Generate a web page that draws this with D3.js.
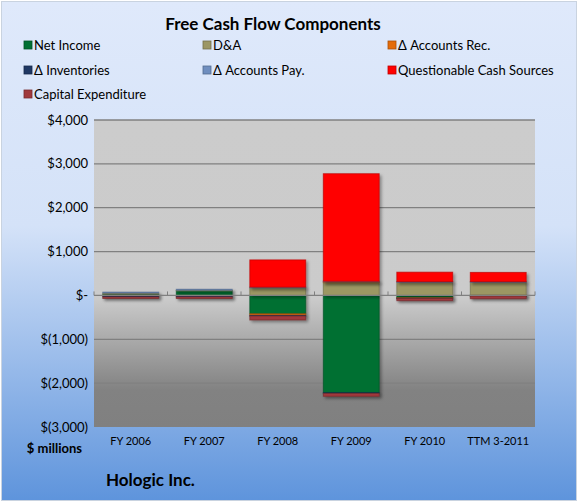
<!DOCTYPE html>
<html>
<head>
<meta charset="utf-8">
<script src="https://cdn.jsdelivr.net/npm/d3@7"></script>
<style>
  body { margin: 0; background: #fff; }
  text { font-family: Lato, "Open Sans", sans-serif; }
</style>
</head>
<body>
<svg id="chart" width="578" height="502"></svg>
<script>
// Values in $ millions
const categories = ["FY 2006", "FY 2007", "FY 2008", "FY 2009", "FY 2010", "TTM 3-2011"];
const seriesNames = ["Net Income", "D&A", "\u0394 Accounts Rec.", "\u0394 Inventories",
  "\u0394 Accounts Pay.", "Questionable Cash Sources", "Capital Expenditure"];
const netIncome = [30, 110, -420, -2220, -50, 10];
const dna = [25, 10, 180, 290, 310, 300];
const accountsRec = [-10, -5, -35, 30, -10, -10];
const inventories = [-25, -30, -15, -15, -10, -5];
const accountsPay = [20, 20, 10, 5, 5, 5];
const questionable = [0, 0, 620, 2450, 215, 210];
const capex = [-35, -35, -90, -65, -50, -60];
const yTicks = [4000, 3000, 2000, 1000, 0, -1000, -2000, -3000];

const colors = ["#007033", "#9c9764", "#e46c0a", "#1f3864", "#6f8ebf", "#ff0000", "#a0393c"];
const seriesValues = [netIncome, dna, accountsRec, inventories, accountsPay, questionable, capex];

const table = categories.map((c, i) => {
  const row = { category: c };
  seriesNames.forEach((s, j) => (row[s] = seriesValues[j][i]));
  return row;
});

const svg = d3.select("#chart");
const defs = svg.append("defs");

// background gradient of the whole chart
const bg = defs.append("linearGradient").attr("id", "bg").attr("x1", 0).attr("y1", 0).attr("x2", 0).attr("y2", 1);
bg.append("stop").attr("offset", "0").attr("stop-color", "#dfe9fb");
bg.append("stop").attr("offset", "0.45").attr("stop-color", "#d4e2f8");
bg.append("stop").attr("offset", "1").attr("stop-color", "#5e94dc");

// plot area gradient
const pg = defs.append("linearGradient").attr("id", "plotbg").attr("x1", 0).attr("y1", 0).attr("x2", 0).attr("y2", 1);
pg.append("stop").attr("offset", "0").attr("stop-color", "#cccccc");
pg.append("stop").attr("offset", "0.58").attr("stop-color", "#cbcbcb");
pg.append("stop").attr("offset", "0.88").attr("stop-color", "#828282");
pg.append("stop").attr("offset", "1").attr("stop-color", "#808080");

const shadow = defs.append("filter").attr("id", "shadow")
  .attr("x", "-10%").attr("y", "-10%").attr("width", "130%").attr("height", "140%");
shadow.append("feDropShadow").attr("dx", 2).attr("dy", 2).attr("stdDeviation", 1.5)
  .attr("flood-color", "#000").attr("flood-opacity", 0.35);

svg.append("rect")
  .attr("x", 1.5).attr("y", 1.5).attr("width", 575).attr("height", 499)
  .attr("fill", "url(#bg)").attr("stroke", "#c9d3e0");

const margin = { left: 94, right: 43, top: 120, bottom: 75 };
const width = 578 - margin.left - margin.right;
const height = 502 - margin.top - margin.bottom;

const x = d3.scaleBand().domain(categories).range([0, width]).paddingInner(0.24).paddingOuter(0.12);
const y = d3.scaleLinear().domain([-3000, 4000]).range([height, 0]);

const g = svg.append("g").attr("transform", `translate(${margin.left}, ${margin.top})`);

g.append("rect")
  .attr("width", width).attr("height", height)
  .attr("fill", "url(#plotbg)");

// gridlines
g.selectAll(".grid")
  .data(yTicks.filter((d) => d !== 0 && d !== -3000))
  .enter()
  .append("line")
  .attr("class", "grid")
  .attr("x1", 0).attr("x2", width)
  .attr("y1", (d) => y(d)).attr("y2", (d) => y(d))
  .style("stroke", "#808080").style("stroke-width", 1.3);

// stacked bars
const stack = d3.stack().keys(seriesNames).offset(d3.stackOffsetDiverging);
const layers = stack(table);

g.selectAll(".layer")
  .data(layers)
  .enter()
  .append("g")
  .attr("class", "layer")
  .attr("filter", "url(#shadow)")
  .each(function (layer, j) {
    d3.select(this)
      .selectAll("rect")
      .data(layer.filter((d) => d[1] - d[0] !== 0))
      .enter()
      .append("rect")
      .attr("x", (d) => x(d.data.category))
      .attr("width", x.bandwidth())
      .attr("y", (d) => y(d[1]))
      .attr("height", (d) => Math.max(0.8, y(d[0]) - y(d[1])))
      .attr("fill", colors[j])
      .attr("stroke", d3.color(colors[j]).darker(0.8))
      .attr("stroke-width", 1)
      .attr("stroke-opacity", 0.7);
  });

// zero axis with tick marks at band edges
const axisG = g.append("g").attr("transform", `translate(0, ${y(0)})`);
axisG.append("line").attr("x1", 0).attr("x2", width).style("stroke", "#808080").style("stroke-width", 1.3);
axisG.selectAll(".tick")
  .data(d3.range(categories.length + 1))
  .enter()
  .append("line")
  .attr("x1", (d) => d * width / categories.length)
  .attr("x2", (d) => d * width / categories.length)
  .attr("y1", 0).attr("y2", -4)
  .style("stroke", "#808080");

// y labels
const fmt = d3.format(",");
g.selectAll(".ylab")
  .data(yTicks)
  .enter()
  .append("text")
  .attr("x", -6)
  .attr("y", (d) => y(d))
  .attr("dy", "0.35em")
  .attr("text-anchor", "end")
  .style("font-size", "13px")
  .style("fill", "#000")
  .text((d) => (d === 0 ? "$-" : d < 0 ? `$(${fmt(-d)})` : `$${fmt(d)}`));

// x labels
g.selectAll(".xlab")
  .data(categories)
  .enter()
  .append("text")
  .attr("x", (d) => x(d) + x.bandwidth() / 2)
  .attr("y", height + 18)
  .attr("text-anchor", "middle")
  .style("font-size", "11px")
  .text((d) => d);

svg.append("text").attr("x", 82).attr("y", 453).attr("text-anchor", "end")
  .style("font-size", "13px").style("font-weight", "bold").text("$ millions");

svg.append("text").attr("x", 106).attr("y", 486)
  .style("font-size", "17px").style("font-weight", "bold").text("Hologic Inc.");

svg.append("text").attr("x", 273).attr("y", 30).attr("text-anchor", "middle")
  .style("font-size", "17px").style("font-weight", "bold").text("Free Cash Flow Components");

// legend, three columns
const legend = svg.append("g").selectAll(".leg")
  .data(seriesNames)
  .enter()
  .append("g")
  .attr("transform", (d, i) => `translate(${[24, 203, 388][i % 3]}, ${[45, 70, 94][Math.floor(i / 3)]})`);
legend.append("rect")
  .attr("x", 0).attr("y", -4).attr("width", 8).attr("height", 8)
  .attr("fill", (d, i) => colors[i])
  .attr("stroke", (d, i) => d3.color(colors[i]).darker(0.8))
  .attr("stroke-width", 0.8);
legend.append("text")
  .attr("x", 10).attr("dy", "0.35em")
  .style("font-size", "13px")
  .text((d) => d);
</script>
</body>
</html>
